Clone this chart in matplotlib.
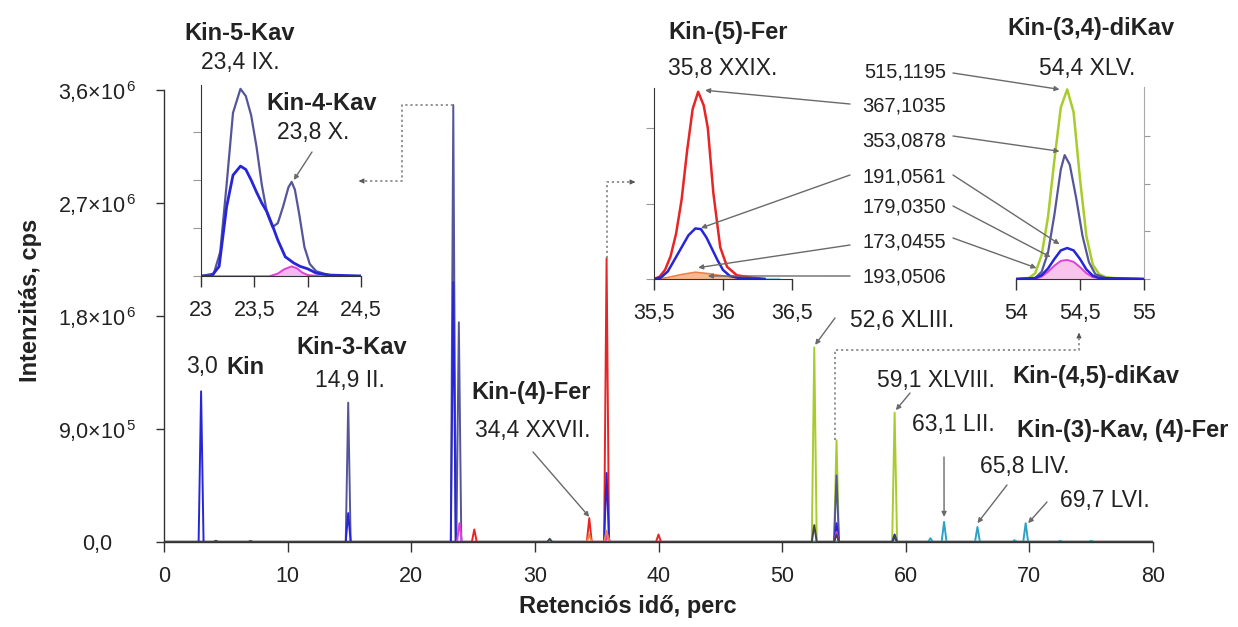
import matplotlib
matplotlib.use('Agg')
import matplotlib.pyplot as plt
from matplotlib.lines import Line2D

plt.rcParams['font.family'] = ['Liberation Sans', 'DejaVu Sans']
plt.rcParams['mathtext.fontset'] = 'custom'
plt.rcParams['mathtext.rm'] = 'Liberation Sans'
plt.rcParams['mathtext.it'] = 'Liberation Sans:italic'
plt.rcParams['mathtext.bf'] = 'Liberation Sans:bold'

W, H = 1238, 627

# ---------------- main chromatogram: peak retention times (min) and intensities (cps)
blue_rt = [3.0, 14.9, 23.4, 35.8, 54.4, 59.1]
blue_int = [1.20e6, 2.3e5, 2.07e6, 5.5e5, 1.5e5, 6e4]
slate_rt = [14.9, 23.4, 23.85, 35.85, 54.4]
slate_int = [1.11e6, 3.48e6, 1.75e6, 6e4, 5.3e5]
magenta_rt = [23.9, 35.9, 54.4]
magenta_int = [1.5e5, 5e4, 8e4]
red_rt = [25.1, 34.4, 35.8, 40.0]
red_int = [1.0e5, 1.9e5, 2.26e6, 6e4]
orange_rt = [34.4, 35.8]
orange_int = [6e4, 9e4]
green_rt = [52.6, 54.4, 59.1]
green_int = [1.55e6, 8.1e5, 1.03e6]
dark_rt = [4.2, 7.0, 31.2, 52.6, 54.4, 59.1]
dark_int = [1e4, 8e3, 2.5e4, 1.35e5, 6e4, 4e4]
cyan_rt = [62.0, 63.1, 65.8, 68.8, 69.7, 72.5, 75.0]
cyan_int = [3e4, 1.6e5, 1.2e5, 1.5e4, 1.5e5, 1e4, 1e4]

x_ticks = [0, 10, 20, 30, 40, 50, 60, 70, 80]
y_ticks = [0, 9.0e5, 1.8e6, 2.7e6, 3.6e6]
y_ticklabels = ['0,0', r'9,0×10$^{\,5}$', r'1,8×10$^{\,6}$', r'2,7×10$^{\,6}$', r'3,6×10$^{\,6}$']

# ---------------- inset 1 (23-24.5 min), relative units
i1_slate_x = [23.00, 23.12, 23.18, 23.24, 23.30, 23.37, 23.42, 23.47, 23.52, 23.57, 23.62, 23.67, 23.72,
              23.77, 23.82, 23.85, 23.88, 23.92, 23.97, 24.02, 24.08, 24.15, 24.25, 24.50]
i1_slate_y = [0.00, 0.05, 0.50, 1.90, 3.40, 3.90, 3.75, 3.35, 2.70, 1.90, 1.30, 1.02, 1.10,
              1.45, 1.85, 1.96, 1.80, 1.30, 0.60, 0.25, 0.10, 0.05, 0.00, 0.00]
i1_blue_x = [23.00, 23.10, 23.17, 23.24, 23.30, 23.37, 23.42, 23.47, 23.52, 23.57, 23.62, 23.67, 23.72,
             23.79, 23.87, 23.93, 24.00, 24.08, 24.20, 24.50]
i1_blue_y = [0.00, 0.00, 0.20, 1.44, 2.10, 2.29, 2.22, 2.00, 1.75, 1.52, 1.33, 1.05, 0.75,
             0.40, 0.27, 0.20, 0.15, 0.06, 0.02, 0.00]
i1_mag_x = [23.65, 23.72, 23.78, 23.85, 23.90, 23.95, 24.00, 24.10]
i1_mag_y = [0.00, 0.05, 0.14, 0.20, 0.16, 0.07, 0.02, 0.00]
i1_ticks = [23, 23.5, 24, 24.5]
i1_ticklabels = ['23', '23,5', '24', '24,5']

# ---------------- inset 2 (35.5-36.5 min)
i2_red_x = [35.50, 35.54, 35.58, 35.62, 35.66, 35.70, 35.74, 35.78, 35.82, 35.86, 35.89, 35.93, 35.98,
            36.03, 36.10, 36.20, 36.30]
i2_red_y = [0.00, 0.03, 0.12, 0.30, 0.60, 1.05, 1.70, 2.25, 2.48, 2.30, 2.00, 1.14, 0.42,
            0.16, 0.05, 0.02, 0.00]
i2_blue_x = [35.50, 35.55, 35.60, 35.65, 35.70, 35.75, 35.80, 35.84, 35.88, 35.92, 35.96, 36.00, 36.05,
             36.12, 36.30]
i2_blue_y = [0.00, 0.02, 0.10, 0.26, 0.42, 0.58, 0.67, 0.66, 0.55, 0.40, 0.25, 0.12, 0.04, 0.01, 0.00]
i2_orange_x = [35.50, 35.60, 35.70, 35.80, 35.90, 36.00, 36.10, 36.20, 36.30]
i2_orange_y = [0.00, 0.02, 0.06, 0.09, 0.07, 0.04, 0.02, 0.01, 0.00]
i2_ticks = [35.5, 36, 36.5]
i2_ticklabels = ['35,5', '36', '36,5']

# ---------------- inset 3 (54-55 min)
i3_green_x = [54.00, 54.10, 54.15, 54.20, 54.25, 54.30, 54.35, 54.40, 54.45, 54.50, 54.55, 54.60, 54.65,
              54.70, 54.80, 55.00]
i3_green_y = [0.00, 0.02, 0.12, 0.50, 1.30, 2.50, 3.60, 3.98, 3.50, 2.10, 0.90, 0.30, 0.10, 0.04, 0.01, 0.00]
i3_slate_x = [54.00, 54.15, 54.20, 54.25, 54.30, 54.35, 54.38, 54.42, 54.47, 54.52, 54.57, 54.62, 54.70, 55.00]
i3_slate_y = [0.00, 0.02, 0.15, 0.55, 1.35, 2.30, 2.60, 2.40, 1.70, 0.90, 0.35, 0.10, 0.02, 0.00]
i3_blue_x = [54.00, 54.15, 54.20, 54.25, 54.30, 54.35, 54.40, 54.45, 54.50, 54.55, 54.60, 54.65, 55.00]
i3_blue_y = [0.00, 0.02, 0.08, 0.22, 0.42, 0.60, 0.65, 0.60, 0.42, 0.20, 0.07, 0.02, 0.00]
i3_mag_x = [54.15, 54.20, 54.25, 54.30, 54.35, 54.40, 54.45, 54.50, 54.55, 54.60, 54.70]
i3_mag_y = [0.00, 0.05, 0.15, 0.28, 0.38, 0.40, 0.36, 0.25, 0.12, 0.04, 0.00]
i3_ticks = [54, 54.5, 55]
i3_ticklabels = ['54', '54,5', '55']

# ---------------- colours
C_SLATE = '#55559a'
C_BLUE = '#2626d8'
C_MAG = '#e040d8'
C_RED = '#e82424'
C_ORANGE = '#f08040'
C_GREEN = '#a8cc2c'
C_DARK = '#444444'
C_CYAN = '#2fa2c4'
C_ARROW = '#6a6a6a'


def fx(x):
    return x / W


def fy(y):
    return 1 - y / H


def peaks_line(rts, ints, hw=0.2):
    xs, ys = [0.0], [0.0]
    for r, v in sorted(zip(rts, ints)):
        xs += [r - hw, r, r + hw]
        ys += [0.0, v, 0.0]
    xs.append(80.0)
    ys.append(0.0)
    return xs, ys


fig = plt.figure(figsize=(W / 100, H / 100), dpi=100)

# ---------------- main axes
ax = fig.add_axes([fx(164), fy(542), (1153 - 164) / W, (542 - 90) / H])
ax.set_xlim(0, 80)
ax.set_ylim(0, 3.6e6)
ax.axhline(0, color='#b8b8b8', lw=3.5, zorder=1)
for rts, ints, col in [(green_rt, green_int, C_GREEN), (red_rt, red_int, C_RED),
                       (slate_rt, slate_int, C_SLATE), (blue_rt, blue_int, C_BLUE),
                       (magenta_rt, magenta_int, C_MAG), (orange_rt, orange_int, C_ORANGE),
                       (cyan_rt, cyan_int, C_CYAN), (dark_rt, dark_int, C_DARK)]:
    xs, ys = peaks_line(rts, ints)
    ax.plot(xs, ys, color=col, lw=1.4, zorder=2)
for s in ['top', 'right']:
    ax.spines[s].set_visible(False)
for s in ['left', 'bottom']:
    ax.spines[s].set_color('#333333')
    ax.spines[s].set_linewidth(1.0)
ax.set_xticks(x_ticks)
ax.set_xticklabels([str(t) for t in x_ticks])
ax.set_yticks(y_ticks)
ax.set_yticklabels(y_ticklabels)
ax.tick_params(axis='x', length=7, width=1, color='#333333', labelsize=15.5, pad=10, labelcolor='#222222')
ax.tick_params(axis='y', length=6, width=1, color='#333333', labelsize=15.5, pad=42, labelcolor='#222222')
for lab in ax.get_yticklabels():
    lab.set_horizontalalignment('center')

fig.text(fx(31), fy(300), 'Intenzitás, cps', rotation=90, ha='center', va='center',
         fontsize=17, fontweight='bold', color='#222222')
fig.text(fx(628), fy(607), 'Retenciós idő, perc', ha='center', va='center',
         fontsize=17, fontweight='bold', color='#222222')


def style_inset(a, ticks, labels, side='left'):
    a.set_facecolor('none')
    a.spines['top'].set_visible(False)
    other = 'right' if side == 'left' else 'left'
    a.spines[other].set_visible(False)
    a.spines['bottom'].set_color('#333333')
    a.spines[side].set_color('#333333' if side == 'left' else '#aaaaaa')
    a.set_xticks(ticks)
    a.set_xticklabels(labels)
    a.tick_params(axis='x', length=8, width=1, color='#333333', labelsize=15.5, pad=9, labelcolor='#222222')
    a.tick_params(axis='y', length=6 if side == 'left' else 4, width=0.8, color='#999999',
                  labelleft=False, labelright=False, left=(side == 'left'), right=(side == 'right'))


# ---------------- inset 1
a1 = fig.add_axes([fx(201), fy(276), (361 - 201) / W, (276 - 85) / H])
a1.set_xlim(23, 24.5)
a1.set_ylim(0, 3.98)
a1.plot([23, 24.5], [0, 0], color='#9a9aaa', lw=2, zorder=1)
a1.fill_between(i1_mag_x, i1_mag_y, color='#f4b8f0', lw=0)
a1.plot(i1_mag_x, i1_mag_y, color=C_MAG, lw=1.4)
a1.plot(i1_slate_x, i1_slate_y, color=C_SLATE, lw=1.6)
a1.plot(i1_blue_x, i1_blue_y, color=C_BLUE, lw=2.0)
a1.set_yticks([0, 1, 2, 3])
style_inset(a1, i1_ticks, i1_ticklabels, 'left')

# ---------------- inset 2
a2 = fig.add_axes([fx(654), fy(279), (792 - 654) / W, (279 - 88) / H])
a2.set_xlim(35.5, 36.5)
a2.set_ylim(0, 2.53)
a2.plot([35.5, 36.4], [0, 0], color='#a8d4f0', lw=2.5, zorder=1)
a2.fill_between(i2_orange_x, i2_orange_y, color='#f7b890', lw=0)
a2.plot(i2_orange_x, i2_orange_y, color=C_ORANGE, lw=1.2)
a2.plot(i2_red_x, i2_red_y, color=C_RED, lw=1.8)
a2.plot(i2_blue_x, i2_blue_y, color=C_BLUE, lw=1.8)
a2.set_yticks([0, 1, 2])
style_inset(a2, i2_ticks, i2_ticklabels, 'left')

# ---------------- inset 3
a3 = fig.add_axes([fx(1016), fy(279), (1144 - 1016) / W, (279 - 87) / H])
a3.set_xlim(54, 55)
a3.set_ylim(0, 4.03)
a3.plot([54, 55], [0, 0], color='#8a9a60', lw=2, zorder=1)
a3.fill_between(i3_mag_x, i3_mag_y, color='#f8c4ec', lw=0)
a3.plot(i3_mag_x, i3_mag_y, color=C_MAG, lw=1.4)
a3.plot(i3_green_x, i3_green_y, color=C_GREEN, lw=1.8)
a3.plot(i3_slate_x, i3_slate_y, color=C_SLATE, lw=1.6)
a3.plot(i3_blue_x, i3_blue_y, color=C_BLUE, lw=1.8)
a3.set_yticks([0, 1, 2, 3])
style_inset(a3, i3_ticks, i3_ticklabels, 'right')
a3.yaxis.set_ticks_position('right')
a3.tick_params(axis='y', labelright=False)

# ---------------- labels
TXT = '#222222'


def t(x, y, s, size=16.5, bold=False, ha='center'):
    fig.text(fx(x), fy(y), s, ha=ha, va='center', fontsize=size,
             fontweight='bold' if bold else 'normal', color=TXT)


t(240, 33, 'Kin-5-Kav', 17, True)
t(240, 62, '23,4 IX.')
t(322, 103, 'Kin-4-Kav', 17, True)
t(313, 132, '23,8 X.')
t(218, 367, '3,0', ha='right')
t(226, 367, 'Kin', 17, True, ha='left')
t(352, 348, 'Kin-3-Kav', 17, True)
t(350, 380, '14,9 II.')
t(531, 392, 'Kin-(4)-Fer', 17, True)
t(533, 430, '34,4 XXVII.')
t(728, 33, 'Kin-(5)-Fer', 17, True)
t(723, 68, '35,8 XXIX.')
t(1091, 29, 'Kin-(3,4)-diKav', 17, True)
t(1087, 68, '54,4 XLV.')
t(850, 321, '52,6 XLIII.', ha='left')
t(877, 380, '59,1 XLVIII.', ha='left')
t(1012, 377, 'Kin-(4,5)-diKav', 17, True, ha='left')
t(912, 425, '63,1 LII.', ha='left')
t(1017, 430, 'Kin-(3)-Kav, (4)-Fer', 17, True, ha='left')
t(980, 467, '65,8 LIV.', ha='left')
t(1060, 500, '69,7 LVI.', ha='left')

mass_labels = ['515,1195', '367,1035', '353,0878', '191,0561', '179,0350', '173,0455', '193,0506']
mass_y = [72, 106, 141, 177, 207, 242, 277]
for s, y in zip(mass_labels, mass_y):
    t(946, y, s, 14.5, ha='right')

AP = dict(arrowstyle='-|>', color=C_ARROW, lw=1.0, mutation_scale=7, shrinkA=0, shrinkB=0)


def arrow(axes, xy, start):
    axes.annotate('', xy=xy, xycoords='data', xytext=(fx(start[0]), fy(start[1])),
                  textcoords='figure fraction', arrowprops=AP, annotation_clip=False)


# mass label connectors
arrow(a3, (54.34, 3.98), (953, 73))
arrow(a2, (35.87, 2.50), (850, 104))
arrow(a3, (54.34, 2.68), (953, 136))
arrow(a2, (35.84, 0.675), (850, 175))
arrow(a3, (54.34, 0.73), (953, 175))
arrow(a3, (54.27, 0.46), (953, 206))
arrow(a2, (35.82, 0.15), (850, 245))
arrow(a3, (54.16, 0.23), (953, 238))
arrow(a2, (35.89, 0.04), (850, 276))

# peak annotations
arrow(a1, (23.87, 2.0), (312, 152))
arrow(ax, (34.4, 2.0e5), (533, 452))
arrow(ax, (52.67, 1.57e6), (835, 318))
arrow(ax, (59.2, 1.05e6), (910, 393))
arrow(ax, (63.1, 2.0e5), (944, 457))
arrow(ax, (65.8, 1.5e5), (1007, 485))
arrow(ax, (69.9, 1.5e5), (1047, 502))


# dotted connectors
def dotted(pts, head_from, head_to):
    xs = [fx(p[0]) for p in pts]
    ys = [fy(p[1]) for p in pts]
    fig.add_artist(Line2D(xs, ys, transform=fig.transFigure, ls=(0, (1.2, 1.6)),
                          color='#8a8a8a', lw=1.3))
    fig.add_artist(matplotlib.patches.FancyArrowPatch(
        (fx(head_from[0]), fy(head_from[1])), (fx(head_to[0]), fy(head_to[1])),
        transform=fig.transFigure, arrowstyle='-|>', mutation_scale=7, color='#555555', lw=0.8))


dotted([(453, 105), (402, 105), (402, 181), (362, 181)], (364, 181), (356, 181))
dotted([(607, 258), (607, 182), (632, 182)], (630, 182), (638, 182))
dotted([(835, 440), (835, 350), (1079, 350), (1079, 336)], (1079, 338), (1079, 330))

fig.savefig('out.png', dpi=100, facecolor='white')
